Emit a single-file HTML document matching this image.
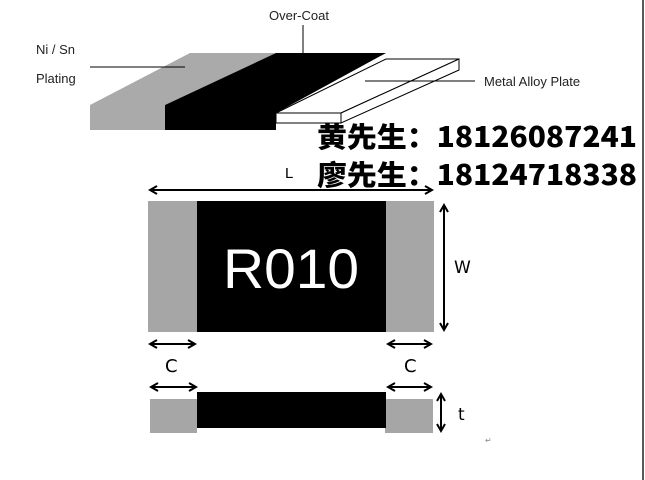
<!DOCTYPE html>
<html><head><meta charset="utf-8"><style>
html,body{margin:0;padding:0;background:#fff;width:645px;height:480px;overflow:hidden}
svg{display:block}
</style></head><body>
<svg width="645" height="480" viewBox="0 0 645 480" xmlns="http://www.w3.org/2000/svg">
<defs>
<marker id="a" markerWidth="10" markerHeight="10" refX="8" refY="5" orient="auto-start-reverse" markerUnits="userSpaceOnUse">
<path d="M1,1 L8,5 L1,9" fill="none" stroke="#000" stroke-width="2"/>
</marker>
</defs>
<line x1="643" y1="0" x2="643" y2="480" stroke="#222" stroke-width="1.5"/>
<!-- top 3D diagram -->
<polygon points="90,105 165,105 276,53 190,53" fill="#aaa"/>
<rect x="90" y="105" width="75" height="25" fill="#aaa"/>
<polygon points="165,105 165,130 276,130 276,113 386,53 276,53" fill="#000"/>
<polygon points="276,113 341,113 459,59 386,59" fill="#fff" stroke="#000" stroke-width="1"/>
<polygon points="276,113 341,113 341,123 276,123" fill="#fff" stroke="#000" stroke-width="1"/>
<polygon points="341,113 459,59 459,70 341,123" fill="#fff" stroke="#000" stroke-width="1"/>
<line x1="303" y1="25" x2="303" y2="53" stroke="#000" stroke-width="1"/>
<line x1="90" y1="67" x2="185" y2="67" stroke="#000" stroke-width="1"/>
<line x1="365" y1="81" x2="475" y2="81" stroke="#000" stroke-width="1"/>
<g font-family="Liberation Sans, Arial, sans-serif" font-size="13" fill="#222">
<text x="269" y="20">Over-Coat</text>
<text x="36" y="54">Ni / Sn</text>
<text x="36" y="83">Plating</text>
<text x="484" y="86">Metal Alloy Plate</text>
</g>
<!-- Chinese text -->
<g font-family="'Noto Sans CJK SC', sans-serif" font-size="28" font-weight="900" fill="#000">
<text x="317" y="147" textLength="320" lengthAdjust="spacingAndGlyphs">黄先生：18126087241</text>
<text x="317" y="185" textLength="320" lengthAdjust="spacingAndGlyphs">廖先生：18124718338</text>
</g>
<!-- front view -->
<text x="285" y="178" font-family="Liberation Sans, sans-serif" font-size="15">L</text>
<line x1="150" y1="190" x2="432" y2="190" stroke="#000" stroke-width="2" marker-start="url(#a)" marker-end="url(#a)"/>
<rect x="148" y="201" width="49" height="131" fill="#a6a6a6"/>
<rect x="197" y="201" width="189" height="131" fill="#000"/>
<rect x="386" y="201" width="48" height="131" fill="#a6a6a6"/>
<text x="223" y="288" textLength="136" lengthAdjust="spacingAndGlyphs" font-family="Liberation Sans, sans-serif" font-size="56" fill="#fff">R010</text>
<line x1="444" y1="205" x2="444" y2="330" stroke="#000" stroke-width="2" marker-start="url(#a)" marker-end="url(#a)"/>
<text x="454" y="273" font-family="DejaVu Sans, sans-serif" font-size="17">W</text>
<line x1="150" y1="344" x2="195" y2="344" stroke="#000" stroke-width="2" marker-start="url(#a)" marker-end="url(#a)"/>
<line x1="388" y1="344" x2="431" y2="344" stroke="#000" stroke-width="2" marker-start="url(#a)" marker-end="url(#a)"/>
<text x="165" y="372" font-family="DejaVu Sans, sans-serif" font-size="18">C</text>
<text x="404" y="372" font-family="DejaVu Sans, sans-serif" font-size="18">C</text>
<line x1="151" y1="387" x2="196" y2="387" stroke="#000" stroke-width="2" marker-start="url(#a)" marker-end="url(#a)"/>
<line x1="388" y1="387" x2="431" y2="387" stroke="#000" stroke-width="2" marker-start="url(#a)" marker-end="url(#a)"/>
<rect x="150" y="399" width="47" height="34" fill="#a6a6a6"/>
<rect x="385" y="399" width="48" height="34" fill="#a6a6a6"/>
<rect x="197" y="392" width="189" height="36" fill="#000"/>
<line x1="441" y1="394" x2="441" y2="431" stroke="#000" stroke-width="2" marker-start="url(#a)" marker-end="url(#a)"/>
<text x="458" y="420" font-family="DejaVu Sans, sans-serif" font-size="17">t</text>
<text x="485" y="443" font-family="DejaVu Sans, sans-serif" font-size="8" fill="#888">↵</text>
</svg>
</body></html>
